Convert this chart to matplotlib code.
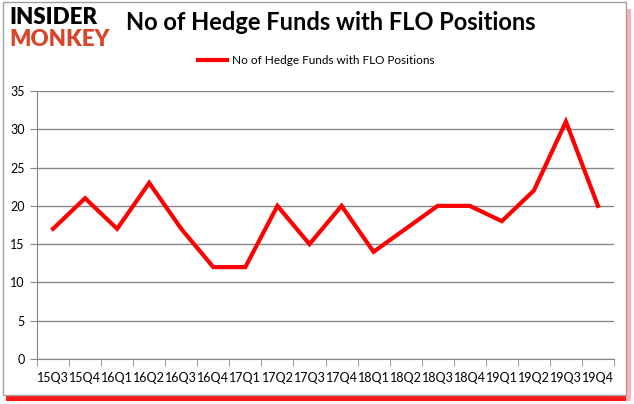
import matplotlib
matplotlib.use("Agg")
import matplotlib.pyplot as plt
from matplotlib.patches import Rectangle

plt.rcParams["font.family"] = ["Lato", "DejaVu Sans"]

quarters = ["15Q3", "15Q4", "16Q1", "16Q2", "16Q3", "16Q4", "17Q1", "17Q2", "17Q3",
            "17Q4", "18Q1", "18Q2", "18Q3", "18Q4", "19Q1", "19Q2", "19Q3", "19Q4"]
funds = [17, 21, 17, 23, 17, 12, 12, 20, 15, 20, 14, 17, 20, 20, 18, 22, 31, 20]
series_label = "No of Hedge Funds with FLO Positions"
title = "No of Hedge Funds with FLO Positions"

W, H = 634, 404
fig = plt.figure(figsize=(W / 100, H / 100), dpi=100)
fig.patch.set_facecolor("white")

# frame with red shadow
fig.patches.append(Rectangle((6 / W, 3 / H), (W - 9) / W, 6 / H, transform=fig.transFigure,
                             facecolor="#ff1a1a", edgecolor="none", zorder=0))
fig.patches.append(Rectangle(((W - 8) / W, 3 / H), 5 / W, (H - 12) / H, transform=fig.transFigure,
                             facecolor="#ffb0b0", edgecolor="none", zorder=0))
fig.patches.append(Rectangle((3 / W, 9 / H), (W - 11) / W, (H - 11) / H, transform=fig.transFigure,
                             facecolor="white", edgecolor="#a0a0a0", linewidth=1, zorder=1))

ax = fig.add_axes([37 / W, 1 - 359 / H, (614 - 37) / W, (359 - 91) / H])
ax.set_zorder(2)
ax.patch.set_alpha(0)
x = list(range(len(quarters)))
ax.plot(x, funds, color="#ff0000", linewidth=3, solid_joinstyle="miter", label=series_label)
ax.set_xlim(-0.5, len(quarters) - 0.5)
ax.set_ylim(0, 35)
ax.set_yticks(range(0, 36, 5))
ax.set_xticks(x)
ax.set_xticklabels(quarters)
ax.set_xticks([i - 0.5 for i in range(len(quarters) + 1)], minor=True)
ax.tick_params(axis="x", which="major", length=0, pad=9, labelsize=9)
ax.tick_params(axis="x", which="minor", length=5, color="#868686")
ax.tick_params(axis="y", length=5, color="#868686", labelsize=9, pad=4)
ax.grid(axis="y", color="#868686", linewidth=1)
ax.set_axisbelow(True)
for s in ["top", "right"]:
    ax.spines[s].set_visible(False)
for s in ["left", "bottom"]:
    ax.spines[s].set_color("#868686")

leg = fig.legend(loc="center", bbox_to_anchor=(316 / W, 1 - 61 / H), frameon=False,
                 fontsize=8.5, handlelength=2.5, handletextpad=0.4)

fig.text(331 / W, 1 - 22 / H, title, ha="center", va="center", fontsize=17,
         fontweight="bold", color="black")
fig.text(9 / W, 1 - 17 / H, "INSIDER", ha="left", va="center", fontsize=16,
         fontweight="heavy", color="black")
fig.text(9 / W, 1 - 39 / H, "MONKEY", ha="left", va="center", fontsize=16,
         fontweight="heavy", color="#d9452b")

fig.savefig("out.png", dpi=100)
